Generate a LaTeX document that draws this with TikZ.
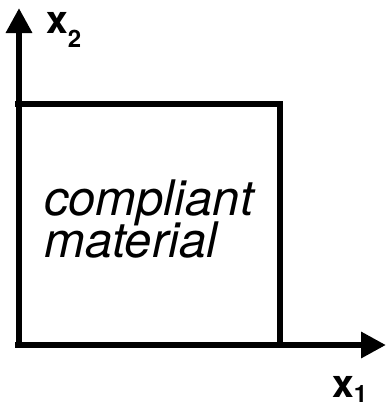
\documentclass[tikz,border=0pt]{standalone}
\usepackage{fontspec}
\newfontfamily\hv{TeX Gyre Heros}
\usetikzlibrary{arrows.meta}
\begin{document}
\begin{tikzpicture}[x=1pt,y=-1pt,
  axis/.style={line width=6.5pt,-{Triangle[length=25pt,width=25pt]}},
  boxline/.style={line width=6.5pt,line cap=rect},
  lbl/.style={inner sep=0pt,anchor=base west,font=\hv\itshape\fontsize{49}{42}\selectfont},
  axlbl/.style={inner sep=0pt,anchor=base west,font=\hv\bfseries\fontsize{39}{39}\selectfont}]
\useasboundingbox (0,0) rectangle (386,405);
\coordinate (O) at (18,345);
\coordinate (xend) at (386,345);
\coordinate (yend) at (19,8);
\coordinate (TL) at (18,104);
\coordinate (TR) at (280,104);
\coordinate (BR) at (280,345);
\draw[boxline] (TL) -- (TR) -- (BR);
\draw[axis] (15,345) -- (xend);
\draw[axis] (19,348) -- (yend);
\node[lbl] (t1) at (44,215) {compliant};
\node[lbl] (t2) at (44,257) {material};
\node[axlbl] (x2) at (46,33) {x\raisebox{-14pt}{\fontsize{24}{24}\selectfont 2}};
\node[axlbl] (x1) at (332,397) {x\raisebox{-5pt}{\fontsize{24}{24}\selectfont 1}};
\end{tikzpicture}
\end{document}
